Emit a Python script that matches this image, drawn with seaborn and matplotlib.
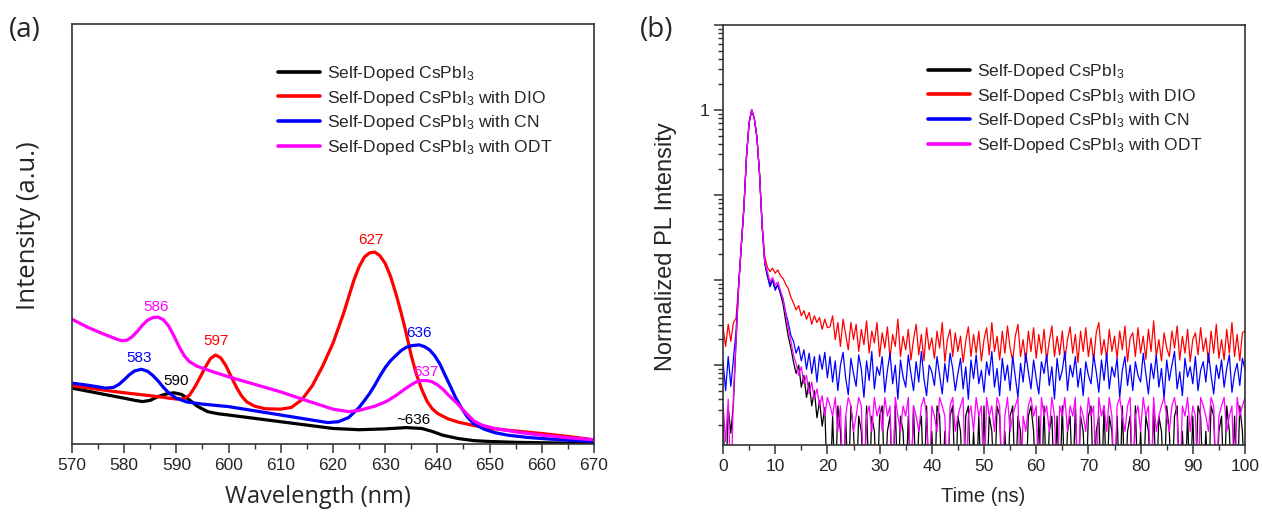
import numpy as np
import pandas as pd
import matplotlib
matplotlib.use("Agg")
import matplotlib.pyplot as plt
from matplotlib.lines import Line2D
from matplotlib.ticker import MultipleLocator, LogLocator, FuncFormatter, NullLocator
import seaborn as sns

# ---------------- data: (a) PL spectra (intensity in a.u.) ----------------
wl_black = [570, 575, 580, 582, 583.5, 585, 586.5, 588, 589.5, 591, 592.5, 594, 596, 598, 600, 605,
            610, 615, 620, 625, 630, 634, 637, 639, 641, 644, 647, 650, 655, 660, 665, 670]
int_black = [0.133, 0.121, 0.109, 0.104, 0.101, 0.104, 0.113, 0.119, 0.122, 0.118, 0.105, 0.090,
             0.077, 0.072, 0.069, 0.061, 0.053, 0.045, 0.037, 0.034, 0.036, 0.039, 0.037, 0.030,
             0.021, 0.013, 0.008, 0.006, 0.004, 0.003, 0.002, 0.001]

wl_red = [570, 575, 580, 585, 590, 591.5, 592.5, 593.5, 594.5, 595.5, 596.5, 597.5, 598.5, 599.5,
          600.5, 601.5, 602.5, 603.5, 605, 607, 610, 612, 614, 616, 618, 620, 621, 622, 623, 624,
          625, 626, 627, 628, 629, 630, 631, 632, 633, 634, 635, 636, 637, 638, 639, 640, 642, 644,
          647, 650, 655, 660, 665, 670]
int_red = [0.139, 0.130, 0.122, 0.115, 0.107, 0.108, 0.116, 0.135, 0.158, 0.182, 0.203, 0.212,
           0.205, 0.186, 0.160, 0.135, 0.114, 0.100, 0.090, 0.084, 0.083, 0.087, 0.105, 0.138,
           0.185, 0.240, 0.275, 0.310, 0.350, 0.390, 0.422, 0.445, 0.455, 0.457, 0.448, 0.430,
           0.400, 0.360, 0.315, 0.265, 0.210, 0.165, 0.130, 0.102, 0.084, 0.073, 0.060, 0.052,
           0.044, 0.037, 0.031, 0.025, 0.018, 0.010]

wl_blue = [570, 573, 576.5, 578, 579, 580, 581, 582, 583.3, 584.5, 585.5, 586.5, 587.5, 588.5, 590,
           592, 595, 600, 605, 610, 615, 619, 621, 623, 625, 626, 627, 628, 629, 630, 631, 632, 633,
           634, 635, 636.5, 637.5, 638.5, 639.5, 640.5, 641.5, 642.5, 643.5, 644.5, 645.7, 647, 649,
           651, 653.5, 657, 660, 665, 670]
int_blue = [0.145, 0.140, 0.133, 0.135, 0.142, 0.153, 0.165, 0.174, 0.178, 0.173, 0.163, 0.150,
            0.135, 0.122, 0.109, 0.100, 0.095, 0.089, 0.079, 0.069, 0.059, 0.051, 0.053, 0.063,
            0.087, 0.103, 0.120, 0.140, 0.162, 0.182, 0.198, 0.210, 0.222, 0.230, 0.234, 0.236,
            0.232, 0.224, 0.210, 0.190, 0.163, 0.137, 0.110, 0.088, 0.065, 0.048, 0.035, 0.027,
            0.021, 0.016, 0.013, 0.009, 0.006]

wl_magenta = [570, 573, 576, 578.5, 579.5, 580.5, 581.5, 582.5, 583.5, 584.5, 585.5, 586.5, 587.5,
              588.5, 589.5, 590.5, 591.5, 592.5, 594, 597, 600, 605, 610, 615, 620, 623, 625, 628,
              630, 631, 632, 633, 634, 635, 636, 637, 638, 639, 640, 641, 642, 643, 644, 645, 646,
              647, 648.5, 651, 653.5, 656, 660, 665, 670]
int_magenta = [0.297, 0.278, 0.262, 0.250, 0.246, 0.247, 0.255, 0.268, 0.283, 0.295, 0.301, 0.302,
               0.296, 0.281, 0.258, 0.232, 0.210, 0.196, 0.185, 0.172, 0.160, 0.142, 0.124, 0.103,
               0.083, 0.077, 0.080, 0.090, 0.100, 0.107, 0.115, 0.124, 0.133, 0.141, 0.148, 0.151,
               0.151, 0.148, 0.141, 0.131, 0.118, 0.106, 0.094, 0.080, 0.067, 0.055, 0.045, 0.037,
               0.032, 0.027, 0.021, 0.015, 0.010]

# peak annotations: (wavelength, height, text, series)
peak_labels = [(586.1, 0.326, "586", "ODT"), (582.8, 0.205, "583", "CN"), (589.9, 0.150, "590", "pure"),
               (597.6, 0.245, "597", "DIO"), (627.3, 0.486, "627", "DIO"), (636.5, 0.264, "636", "CN"),
               (637.8, 0.171, "637", "ODT"), (635.5, 0.057, "~636", "pure")]

# ---------------- data: (b) TRPL decays, log10 of normalized intensity ----------------
# sampled every 0.5 ns from 0 to 100 ns; first 41 points cover 0-20 ns, the rest 20.5-100 ns
log_black_early = [-3.6, -4.5, -3.5, -3.8, -3.45, -2.72, -2.08, -1.6, -1.15, -0.55, -0.15, 0.0, -0.1, -0.32,
                   -0.75, -1.36, -1.8, -1.95, -2.05, -2.0, -2.1, -2.06, -2.16, -2.28, -2.48, -2.66, -2.8,
                   -2.96, -3.1, -3.0, -3.26, -3.12, -3.38, -3.2, -3.48, -3.3, -3.62, -3.42, -3.72, -3.5, -4.5]
log_black_late = [-4.5, -3.6, -4.5, -3.48, -3.78, -4.5, -3.6, -4.5, -3.48, -3.78,
                  -4.5, -3.6, -3.78, -4.5, -3.48, -4.5, -3.6, -3.78, -4.5, -3.6,
                  -3.48, -4.5, -3.78, -3.6, -4.5, -3.48, -4.5, -3.6, -3.78, -4.5,
                  -3.6, -4.5, -3.48, -4.5, -3.78, -3.6, -4.5, -3.48, -4.5, -3.78,
                  -4.5, -3.48, -3.6, -4.5, -3.78, -4.5, -3.6, -3.48, -4.5, -3.6,
                  -3.78, -4.5, -3.6, -3.48, -4.5, -3.78, -4.5, -3.6, -4.5, -3.48,
                  -4.5, -3.6, -3.78, -4.5, -3.48, -3.6, -4.5, -3.78, -4.5, -3.6,
                  -3.48, -4.5, -3.6, -3.78, -4.5, -4.5, -3.6, -3.48, -3.78, -4.5,
                  -3.6, -4.5, -3.48, -4.5, -3.78, -3.6, -4.5, -3.6, -4.5, -3.48,
                  -4.5, -3.78, -3.6, -4.5, -3.48, -4.5, -3.6, -3.78, -4.5, -3.6,
                  -3.48, -4.5, -3.78, -3.6, -4.5, -3.48, -4.5, -3.6, -3.78, -4.5,
                  -3.6, -4.5, -3.48, -4.5, -3.78, -3.6, -4.5, -3.48, -4.5, -3.78,
                  -4.5, -3.6, -3.78, -4.5, -3.48, -4.5, -3.6, -3.78, -4.5, -3.48,
                  -3.78, -4.5, -3.6, -3.48, -4.5, -3.78, -4.5, -3.6, -4.5, -3.6,
                  -4.5, -3.48, -3.6, -4.5, -3.78, -4.5, -3.48, -3.6, -4.5, -3.78,
                  -3.6, -4.5, -3.48, -3.78, -4.5, -3.6, -4.5, -3.48, -3.78, -4.5]

log_red_early = [-2.55, -2.78, -2.52, -2.72, -2.5, -2.45, -2.05, -1.6, -1.15, -0.55, -0.15, 0.0, -0.1, -0.32,
                 -0.75, -1.35, -1.72, -1.85, -1.9, -1.86, -1.92, -1.88, -1.95, -1.98, -2.05, -2.1, -2.2,
                 -2.27, -2.35, -2.3, -2.42, -2.36, -2.46, -2.38, -2.52, -2.42, -2.5, -2.44, -2.58, -2.46, -2.56]
log_red_late = [-2.55, -2.42, -2.7, -2.5, -2.78, -2.46, -2.64, -2.82, -2.5, -2.7,
                -2.52, -2.84, -2.58, -2.76, -2.48, -2.86, -2.6, -2.74, -2.5, -2.9,
                -2.62, -2.8, -2.55, -2.92, -2.64, -2.78, -2.46, -2.9, -2.66, -2.82,
                -2.58, -2.94, -2.7, -2.52, -2.88, -2.64, -2.95, -2.56, -2.82, -2.68,
                -2.92, -2.6, -2.8, -2.5, -2.96, -2.7, -2.58, -2.9, -2.62, -2.84,
                -2.66, -2.97, -2.72, -2.55, -2.9, -2.64, -2.86, -2.6, -2.95, -2.7,
                -2.56, -2.88, -2.5, -2.84, -2.66, -2.94, -2.6, -2.86, -2.54, -2.8,
                -2.95, -2.66, -2.52, -2.9, -2.7, -2.97, -2.6, -2.84, -2.56, -2.92,
                -2.64, -2.86, -2.58, -2.95, -2.72, -2.54, -2.9, -2.66, -2.88, -2.6,
                -2.94, -2.7, -2.55, -2.86, -2.64, -2.97, -2.6, -2.84, -2.56, -2.9,
                -2.68, -2.95, -2.62, -2.5, -2.88, -2.7, -2.93, -2.58, -2.84, -2.66,
                -2.92, -2.6, -2.82, -2.54, -2.96, -2.68, -2.62, -2.9, -2.56, -2.86,
                -2.66, -2.93, -2.58, -2.84, -2.48, -2.9, -2.7, -2.95, -2.62, -2.8,
                -2.9, -2.6, -2.8, -2.54, -2.94, -2.66, -2.86, -2.58, -2.96, -2.7,
                -2.62, -2.88, -2.56, -2.84, -2.68, -2.97, -2.6, -2.86, -2.52, -2.92,
                -2.7, -2.94, -2.58, -2.86, -2.5, -2.9, -2.64, -2.95, -2.62, -2.6]

log_blue_early = [-2.95, -3.3, -2.9, -3.25, -2.92, -2.6, -2.05, -1.6, -1.15, -0.55, -0.15, 0.0, -0.1, -0.32,
                  -0.75, -1.38, -1.8, -1.95, -2.08, -2.0, -2.12, -2.05, -2.15, -2.22, -2.38, -2.5, -2.65,
                  -2.72, -2.86, -2.78, -2.95, -2.82, -3.05, -2.86, -3.1, -2.9, -3.2, -2.88, -3.05, -2.85, -3.15]
log_blue_late = [-2.9, -3.2, -2.95, -3.3, -3.0, -2.85, -3.15, -3.35, -2.92, -3.1,
                 -3.25, -2.88, -3.05, -3.38, -2.95, -3.18, -2.84, -3.28, -3.02, -3.12,
                 -2.9, -3.32, -3.06, -2.86, -3.22, -3.0, -3.4, -2.94, -3.14, -3.26,
                 -2.88, -3.1, -3.3, -2.96, -3.2, -2.84, -3.16, -3.36, -3.0, -3.08,
                 -3.24, -2.9, -3.12, -3.34, -2.98, -3.2, -2.86, -3.04, -3.3, -3.1,
                 -2.92, -3.28, -3.02, -3.4, -2.94, -3.16, -2.88, -3.22, -3.06, -3.32,
                 -2.96, -3.12, -2.84, -3.26, -3.04, -3.36, -2.92, -3.18, -3.0, -3.3,
                 -2.9, -3.14, -3.38, -2.98, -3.2, -2.86, -3.08, -3.28, -2.94, -3.16,
                 -3.34, -2.96, -3.1, -2.88, -3.24, -3.02, -3.4, -2.92, -3.18, -3.06,
                 -2.84, -3.3, -3.0, -3.14, -2.9, -3.26, -3.04, -3.36, -2.96, -3.12,
                 -3.22, -2.88, -3.08, -3.32, -2.94, -3.18, -2.86, -3.28, -3.02, -3.14,
                 -2.92, -3.38, -3.06, -2.9, -3.24, -3.0, -3.3, -2.96, -3.12, -3.2,
                 -2.86, -3.1, -3.34, -2.98, -3.16, -2.88, -3.26, -3.04, -3.4, -2.94,
                 -3.18, -3.0, -2.84, -3.28, -3.08, -3.36, -2.92, -3.14, -3.02, -3.22,
                 -2.9, -3.3, -3.06, -2.96, -3.2, -2.86, -3.12, -3.34, -3.0, -3.16,
                 -2.94, -3.26, -3.04, -2.88, -3.32, -3.1, -2.98, -3.24, -2.92, -3.05]

log_magenta_early = [-3.45, -3.9, -3.4, -4.5, -3.35, -2.7, -2.08, -1.6, -1.15, -0.55, -0.15, 0.0, -0.1, -0.32,
                     -0.75, -1.36, -1.78, -1.9, -2.02, -1.97, -2.06, -2.02, -2.12, -2.22, -2.4, -2.56, -2.72,
                     -2.88, -2.98, -3.12, -3.02, -3.22, -3.12, -3.34, -3.2, -3.4, -3.28, -3.48, -3.36, -3.6, -3.38]
log_magenta_late = [-3.48, -3.6, -3.38, -3.78, -3.48, -4.5, -3.6, -3.38, -3.48, -3.78,
                    -3.6, -3.38, -3.48, -4.5, -3.6, -3.48, -3.78, -3.38, -3.6, -3.48,
                    -3.78, -3.38, -3.6, -3.48, -4.5, -3.38, -3.6, -3.78, -3.48, -3.6,
                    -3.38, -4.5, -3.48, -3.6, -3.78, -3.48, -3.38, -3.6, -4.5, -3.48,
                    -3.6, -3.78, -3.38, -3.48, -3.6, -4.5, -3.48, -3.38, -3.78, -3.6,
                    -3.48, -3.38, -4.5, -3.6, -3.48, -3.78, -3.38, -3.6, -3.48, -4.5,
                    -3.38, -3.6, -3.48, -3.78, -3.38, -3.48, -4.5, -3.6, -3.38, -3.78,
                    -3.6, -3.48, -3.38, -4.5, -3.6, -3.78, -3.48, -3.38, -3.6, -3.48,
                    -4.5, -3.38, -3.6, -3.48, -3.78, -3.38, -3.6, -4.5, -3.48, -3.6,
                    -3.38, -3.78, -3.48, -3.6, -3.38, -4.5, -3.48, -3.6, -3.78, -3.38,
                    -3.6, -3.48, -4.5, -3.38, -3.6, -3.48, -3.78, -3.38, -3.6, -4.5,
                    -3.48, -3.38, -3.6, -3.78, -3.48, -3.38, -4.5, -3.6, -3.48, -3.78,
                    -3.38, -3.6, -3.48, -4.5, -3.38, -3.78, -3.6, -3.48, -3.38, -3.6,
                    -3.78, -3.48, -3.38, -3.6, -4.5, -3.48, -3.6, -3.38, -3.78, -3.48,
                    -3.6, -4.5, -3.38, -3.48, -3.6, -3.78, -3.38, -3.48, -4.5, -3.6,
                    -3.48, -3.38, -3.78, -3.6, -3.48, -4.5, -3.38, -3.6, -3.48, -3.38]

series = ["pure", "DIO", "CN", "ODT"]
legend_labels = ["Self-Doped CsPbI$_3$", "Self-Doped CsPbI$_3$ with DIO",
                 "Self-Doped CsPbI$_3$ with CN", "Self-Doped CsPbI$_3$ with ODT"]
colors = {"pure": "#000000", "DIO": "#ff0000", "CN": "#0000ff", "ODT": "#ff00ff"}

# ---------------- build long tables ----------------
spec = pd.concat([
    pd.DataFrame({"wl": wl_black, "I": int_black, "sample": "pure"}),
    pd.DataFrame({"wl": wl_red, "I": int_red, "sample": "DIO"}),
    pd.DataFrame({"wl": wl_blue, "I": int_blue, "sample": "CN"}),
    pd.DataFrame({"wl": wl_magenta, "I": int_magenta, "sample": "ODT"}),
])

time_ns = np.arange(0, 100.25, 0.5)
decay = pd.concat([
    pd.DataFrame({"t": time_ns, "I": 10 ** np.array(log_black_early + log_black_late), "sample": "pure"}),
    pd.DataFrame({"t": time_ns, "I": 10 ** np.array(log_red_early + log_red_late), "sample": "DIO"}),
    pd.DataFrame({"t": time_ns, "I": 10 ** np.array(log_blue_early + log_blue_late), "sample": "CN"}),
    pd.DataFrame({"t": time_ns, "I": 10 ** np.array(log_magenta_early + log_magenta_late), "sample": "ODT"}),
])

# ---------------- style ----------------
sns.set_style("ticks")
plt.rcParams["font.family"] = ["Liberation Sans", "DejaVu Sans"]
plt.rcParams["mathtext.fontset"] = "custom"
plt.rcParams["mathtext.rm"] = "Liberation Sans"
plt.rcParams["mathtext.default"] = "regular"
edge = "#333333"

fig = plt.figure(figsize=(12.62, 5.15), dpi=100)
W, H = 1262, 515
ax_a = fig.add_axes([72 / W, 1 - 444 / H, 522 / W, 420 / H])
ax_b = fig.add_axes([723 / W, 1 - 445 / H, 522 / W, 420 / H])

for ax in (ax_a, ax_b):
    for s in ax.spines.values():
        s.set_visible(True)
        s.set_color(edge)
        s.set_linewidth(1.2)
    ax.tick_params(which="major", direction="out", length=6.5, width=1.1, color=edge,
                   labelsize=12.5, pad=3.5, top=False, right=False)
    ax.tick_params(which="minor", direction="out", length=3.8, width=1.0, color=edge,
                   top=False, right=False)

# ---------------- (a) ----------------
sns.lineplot(data=spec, x="wl", y="I", hue="sample", hue_order=series, palette=colors,
             linewidth=2.3, sort=False, estimator=None, legend=False, ax=ax_a,
             solid_joinstyle="round")
ax_a.set_xlim(570, 670)
ax_a.set_ylim(0, 1)
ax_a.xaxis.set_major_locator(MultipleLocator(10))
ax_a.xaxis.set_minor_locator(MultipleLocator(5))
ax_a.yaxis.set_major_locator(NullLocator())
ax_a.yaxis.set_minor_locator(NullLocator())
ax_a.set_xlabel("")
ax_a.set_ylabel("")
for x, y, txt, key in peak_labels:
    ax_a.text(x, y, txt, color=colors[key], fontsize=11, ha="center", va="center")

handles = [Line2D([0], [0], color=colors[k], lw=2.6) for k in series]
ax_a.legend(handles, legend_labels, loc="upper left", bbox_to_anchor=(278 / W, 1 - 64 / H),
            bbox_transform=fig.transFigure, frameon=False, fontsize=12.5, borderpad=0,
            handlelength=2.4, handletextpad=0.45, labelspacing=0.32, borderaxespad=0)

# ---------------- (b) ----------------
sns.lineplot(data=decay, x="t", y="I", hue="sample", hue_order=series, palette=colors,
             linewidth=0.9, sort=False, estimator=None, legend=False, ax=ax_b)
ax_b.set_yscale("log")
ax_b.set_xlim(0, 100)
ax_b.set_ylim(10 ** -3.94, 10)
ax_b.xaxis.set_major_locator(MultipleLocator(10))
ax_b.xaxis.set_minor_locator(MultipleLocator(5))
ax_b.yaxis.set_major_locator(LogLocator(base=10, numticks=12))
ax_b.yaxis.set_minor_locator(LogLocator(base=10, subs=np.arange(2, 10), numticks=12))
ax_b.yaxis.set_major_formatter(FuncFormatter(lambda v, _: "1" if abs(v - 1) < 1e-9 else ""))
ax_b.yaxis.set_minor_formatter(FuncFormatter(lambda v, _: ""))
ax_b.set_xlabel("")
ax_b.set_ylabel("")

handles_b = [Line2D([0], [0], color=colors[k], lw=2.6) for k in series]
ax_b.legend(handles_b, legend_labels, loc="upper left", bbox_to_anchor=(928 / W, 1 - 62 / H),
            bbox_transform=fig.transFigure, frameon=False, fontsize=12.5, borderpad=0,
            handlelength=2.4, handletextpad=0.45, labelspacing=0.32, borderaxespad=0)

# ---------------- axis titles and panel letters ----------------
fig.text(29 / W, 1 - 226 / H, "Intensity (a.u.)", rotation=90, ha="center", va="center",
         fontsize=18.5, family=["Open Sans", "DejaVu Sans"])
fig.text(318 / W, 1 - 497 / H, "Wavelength (nm)", ha="center", va="center",
         fontsize=17, family=["Open Sans", "DejaVu Sans"])
fig.text(666 / W, 1 - 247 / H, "Normalized PL Intensity", rotation=90, ha="center", va="center",
         fontsize=17)
fig.text(983 / W, 1 - 497 / H, "Time (ns)", ha="center", va="center", fontsize=14.5)
fig.text(25 / W, 1 - 30 / H, "(a)", ha="center", va="center", fontsize=20,
         family=["Open Sans", "DejaVu Sans"])
fig.text(657 / W, 1 - 30 / H, "(b)", ha="center", va="center", fontsize=20,
         family=["Open Sans", "DejaVu Sans"])

fig.savefig("out.png", dpi=100)
